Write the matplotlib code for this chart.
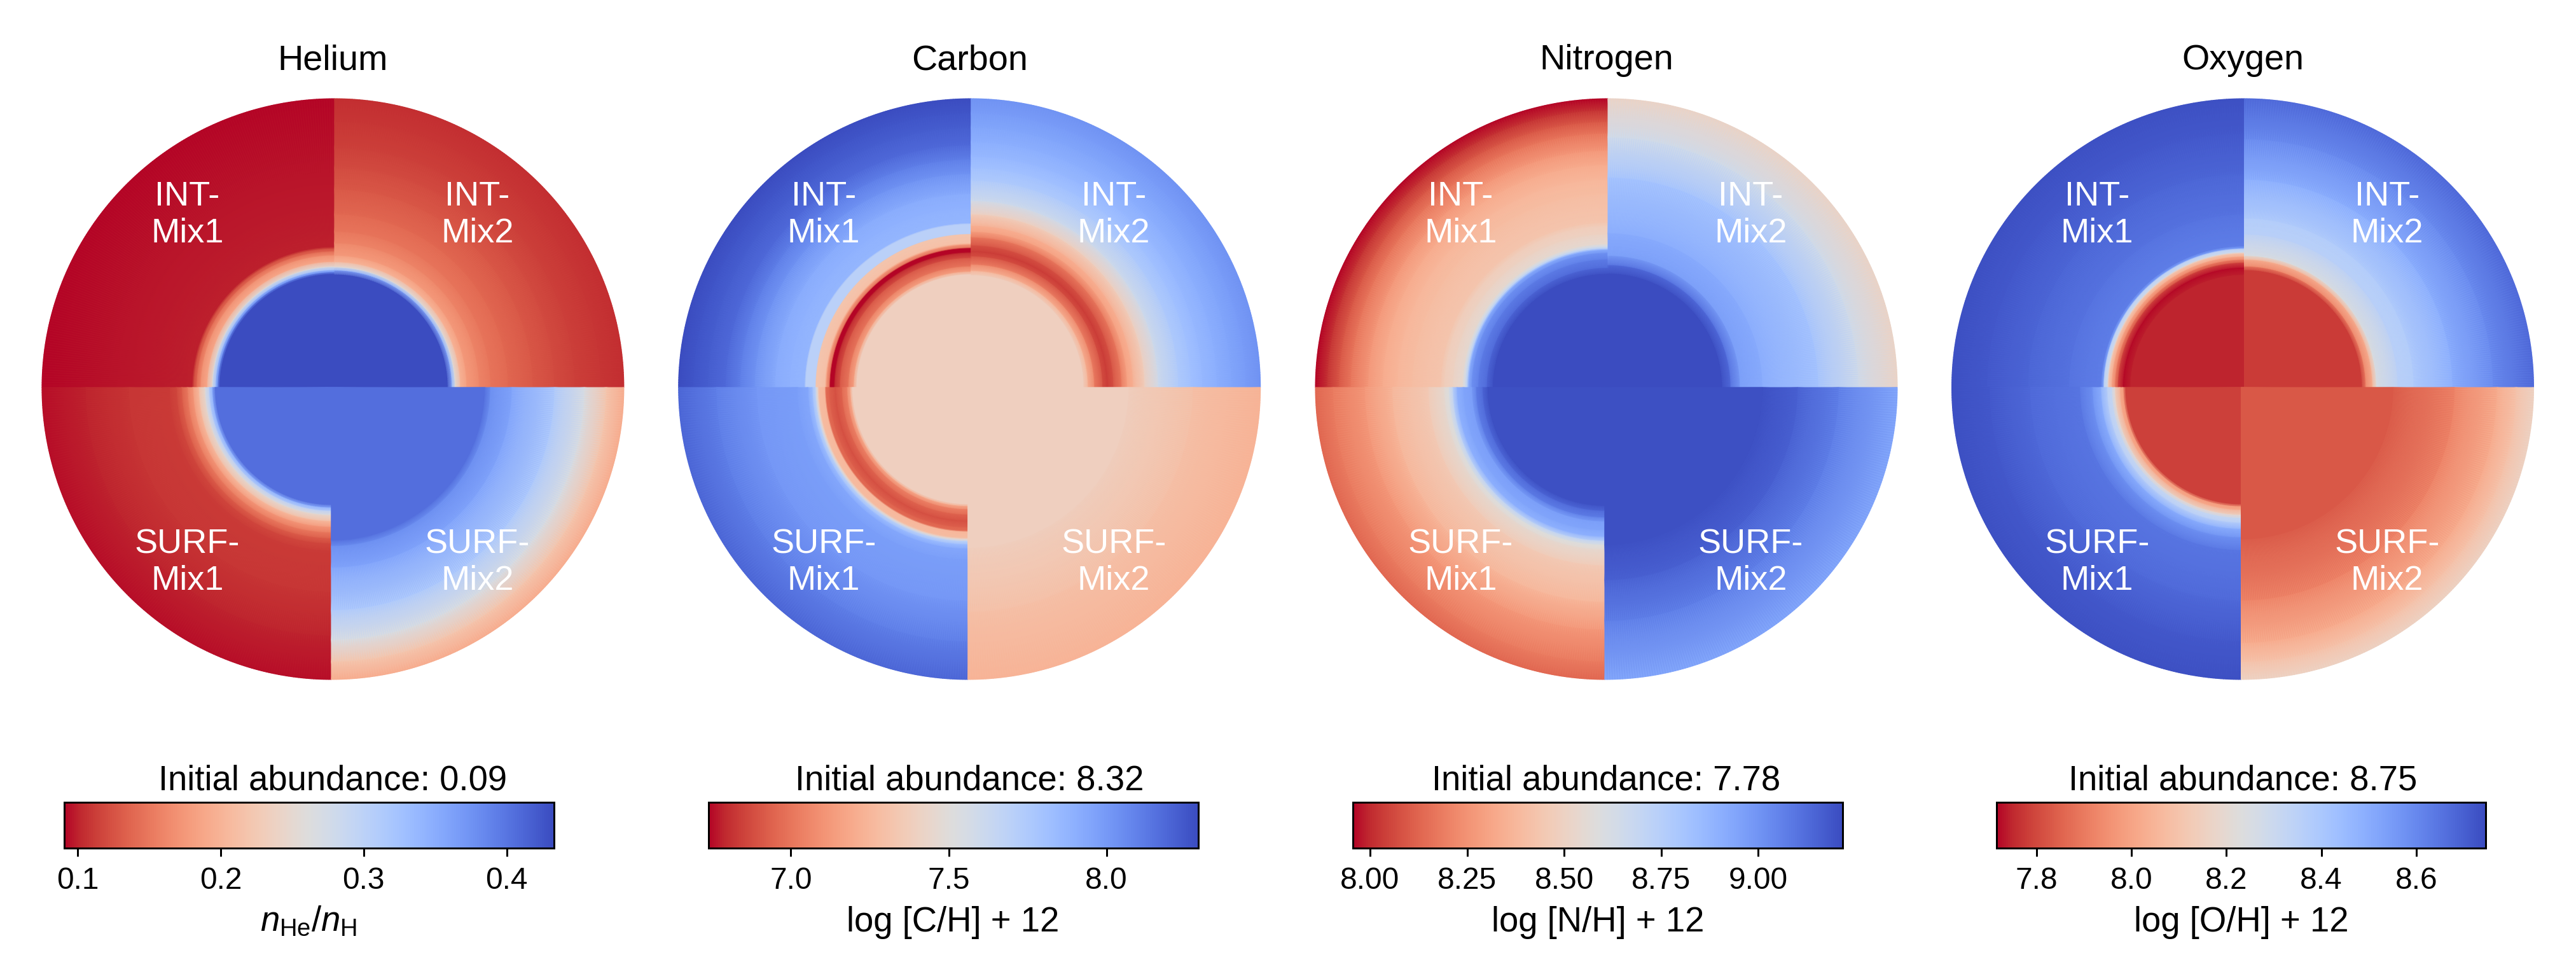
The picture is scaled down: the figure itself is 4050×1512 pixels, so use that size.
import numpy as np
import matplotlib
matplotlib.use("Agg")
import matplotlib.pyplot as plt
from matplotlib.colors import Normalize
from matplotlib.cm import ScalarMappable

plt.rcParams.update({
    "font.family": ["Liberation Sans", "DejaVu Sans"],
    "mathtext.fontset": "custom",
    "mathtext.rm": "Liberation Sans",
    "mathtext.it": "Liberation Sans:italic",
})

elements = ["Helium", "Carbon", "Nitrogen", "Oxygen"]
initial_abundance = ["0.09", "8.32", "7.78", "8.75"]
axis_labels = [r"$n_{\mathrm{He}}/n_{\mathrm{H}}$", "log [C/H] + 12", "log [N/H] + 12", "log [O/H] + 12"]
vmins = [0.0904, 6.738, 7.956, 7.715]
vmaxs = [0.4328, 8.29, 9.217, 8.747]
cbar_ticks = [[0.1, 0.2, 0.3, 0.4], [7.0, 7.5, 8.0],
              [8.0, 8.25, 8.5, 8.75, 9.0], [7.8, 8.0, 8.2, 8.4, 8.6]]
cbar_ticklabels = [["0.1", "0.2", "0.3", "0.4"], ["7.0", "7.5", "8.0"],
                   ["8.00", "8.25", "8.50", "8.75", "9.00"], ["7.8", "8.0", "8.2", "8.4", "8.6"]]

# radial profiles, r is fraction of the stellar radius
he_int1_r = [0, .393, .40, .407, .418, .436, .458, .472, .482, .487, 1.0]
he_int1 = [.433, .433, .381, .330, .262, .193, .166, .138, .118, .101, .091]
he_int2_r = [0, .391, .406, .417, .435, .457, .50, .54, .60, .686, .76, .83, .92, 1.0]
he_int2 = [.433, .433, .347, .262, .203, .179, .160, .149, .139, .129, .120, .114, .108, .104]
he_surf1_r = [0, .402, .412, .423, .437, .458, .478, .497, .517, .535, .56, .70, .85, 1.0]
he_surf1 = [.405, .405, .347, .303, .255, .210, .176, .152, .131, .118, .111, .108, .101, .094]
he_surf2_r = [0, .524, .544, .617, .763, .865, .94, 1.0]
he_surf2 = [.405, .405, .378, .358, .313, .268, .220, .193]

c_int1_r = [0, .392, .402, .42, .449, .467, .47, .482, .485, .496, .50, .531, .533, .566, .57, .62, .67, .74,
            .79, .84, .90, .95, 1.0]
c_int1 = [7.39, 7.39, 7.173, 7.017, 6.893, 6.785, 6.738, 6.738, 6.971, 7.173, 7.297, 7.328, 7.70, 7.70, 7.871,
          7.886, 7.918, 8.026, 8.104, 8.181, 8.228, 8.259, 8.29]
c_int2_r = [0, .389, .404, .426, .455, .471, .492, .52, .54, .56, .6, .647, .717, .76, .80, .85, .9, .95, 1.0]
c_int2 = [7.39, 7.39, 7.235, 7.048, 6.878, 6.831, 6.893, 7.017, 7.157, 7.219, 7.39, 7.592, 7.747, 7.809, 7.855,
          7.902, 7.949, 7.987, 8.026]
c_surf1_r = [0, .40, .407, .418, .436, .458, .48, .491, .495, .515, .52, .527, .538, .553, .59, .73, .87, 1.0]
c_surf1 = [7.39, 7.39, 7.204, 7.048, 6.955, 6.878, 6.94, 6.971, 7.25, 7.281, 7.436, 7.669, 7.824, 7.933, 7.98,
           8.011, 8.104, 8.197]
c_surf2_r = [0, .55, .77, 1.0]
c_surf2 = [7.39, 7.39, 7.297, 7.235]

n_int1_r = [0, .393, .415, .444, .466, .477, .482, .488, .497, .531, .56, .572, .67, .72, .77, .82, .88, .92, .96, 1.0]
n_int1 = [9.217, 9.217, 9.129, 9.066, 9.003, 8.902, 8.738, 8.650, 8.549, 8.498, 8.473, 8.435, 8.397, 8.372, 8.334,
          8.271, 8.170, 8.095, 8.019, 7.956]
n_int2_r = [0, .394, .424, .457, .534, .727, .866, 1.0]
n_int2 = [9.217, 9.217, 9.116, 8.965, 8.914, 8.813, 8.650, 8.511]
n_surf1_r = [0, .405, .423, .445, .46, .489, .511, .526, .54, .555, .61, .735, .83, .94, 1.0]
n_surf1 = [9.204, 9.204, 9.129, 9.066, 8.965, 8.940, 8.889, 8.713, 8.587, 8.549, 8.460, 8.372, 8.271, 8.183, 8.133]
n_surf2_r = [0, .54, .66, .8, 1.0]
n_surf2 = [9.204, 9.204, 9.154, 9.066, 8.940]

o_int1_r = [0, .39, .414, .433, .443, .454, .465, .469, .48, .483, .49, .6, .74, .88, 1.0]
o_int1 = [7.746, 7.746, 7.715, 7.818, 7.921, 8.025, 8.128, 8.283, 8.355, 8.541, 8.623, 8.654, 8.685, 8.716, 8.737]
o_int2_r = [0, .406, .42, .443, .457, .531, .585, .72, .86, 1.0]
o_int2 = [7.777, 7.777, 7.921, 8.045, 8.231, 8.355, 8.375, 8.489, 8.592, 8.675]
o_surf1_r = [0, .40, .408, .419, .437, .448, .463, .485, .514, .558, .73, .87, 1.0]
o_surf1 = [7.787, 7.787, 7.973, 8.025, 8.179, 8.314, 8.355, 8.489, 8.572, 8.644, 8.675, 8.716, 8.737]
o_surf2_r = [0, .52, .73, .875, .94, 1.0]
o_surf2 = [7.829, 7.829, 7.921, 8.025, 8.097, 8.159]

profiles = [
    [(he_int1_r, he_int1), (he_int2_r, he_int2), (he_surf1_r, he_surf1), (he_surf2_r, he_surf2)],
    [(c_int1_r, c_int1), (c_int2_r, c_int2), (c_surf1_r, c_surf1), (c_surf2_r, c_surf2)],
    [(n_int1_r, n_int1), (n_int2_r, n_int2), (n_surf1_r, n_surf1), (n_surf2_r, n_surf2)],
    [(o_int1_r, o_int1), (o_int2_r, o_int2), (o_surf1_r, o_surf1), (o_surf2_r, o_surf2)],
]

W, H = 4050, 1512
cmap = "coolwarm_r"
disc_cx = [523.4, 1524.2, 2525.5, 3526.0]
disc_cy = 609
bar_left = [99, 1112, 2125.5, 3137]
bar_width = 773
bar_top, bar_height = 1259, 75

# top halves sit a few px right of the bottom halves in the original
quad_setup = [(2.5, -1, -1, 460, 454), (2.5, 1, -1, 455, 454),
              (-2.5, -1, 1, 455, 459), (-2.5, 1, 1, 460, 459)]
quad_names = ["INT-\nMix1", "INT-\nMix2", "SURF-\nMix1", "SURF-\nMix2"]
label_dx = [-229, 227, -229, 227]
label_dy = [-271, -271, 275, 275]

fig = plt.figure(figsize=(13.5, 5.04), dpi=300)
ax = fig.add_axes([0, 0, 1, 1])
ax.set_xlim(0, W)
ax.set_ylim(H, 0)
ax.axis("off")

theta = np.linspace(0, np.pi / 2, 181)
for i, name in enumerate(elements):
    norm = Normalize(vmins[i], vmaxs[i])
    for q, (r, v) in enumerate(profiles[i]):
        shift, sx, sy, rx, ry = quad_setup[q]
        tt, rr = np.meshgrid(theta, np.array(r))
        xx = disc_cx[i] + shift + sx * rx * rr * np.cos(tt)
        yy = disc_cy + sy * ry * rr * np.sin(tt)
        cc = np.tile(np.array(v)[:, None], (1, theta.size))
        ax.pcolormesh(xx, yy, cc, shading="gouraud", cmap=cmap, norm=norm)
        ax.text(disc_cx[i] + label_dx[q], disc_cy + label_dy[q], quad_names[q], color="white",
                fontsize=13, ha="center", va="center", linespacing=1.2)

    ax.text(disc_cx[i], 109, name, fontsize=13.4, ha="center", va="baseline")
    ax.text(disc_cx[i], 1242, "Initial abundance: " + initial_abundance[i], fontsize=13.1,
            ha="center", va="baseline")

    # outline is 3 px wide and sits inside the bar extent
    cax = fig.add_axes([(bar_left[i] + 1.5) / W, 1 - (bar_top + bar_height - 1.5) / H,
                        (bar_width - 3) / W, (bar_height - 3) / H])
    cbar = fig.colorbar(ScalarMappable(norm=norm, cmap=cmap), cax=cax, orientation="horizontal")
    cbar.outline.set_linewidth(0.72)
    cbar.set_ticks(cbar_ticks[i], labels=cbar_ticklabels[i])
    cbar.minorticks_off()
    cax.tick_params(length=3.1, width=0.72, labelsize=11.5, pad=4)
    cbar.set_label(axis_labels[i], fontsize=13.1, labelpad=4)

fig.savefig("out.png", dpi=300)
